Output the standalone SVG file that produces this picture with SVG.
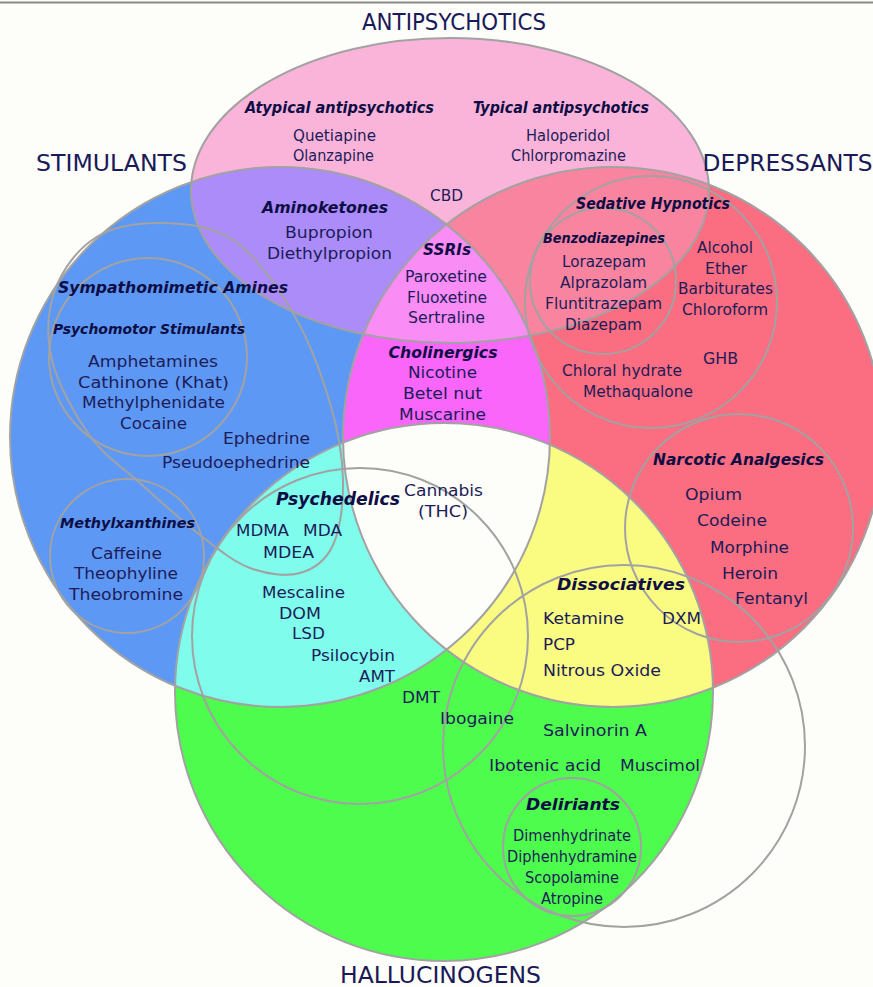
<svg xmlns="http://www.w3.org/2000/svg" width="873" height="987" viewBox="0 0 873 987">
<style>
text{font-family:"DejaVu Sans",Verdana,sans-serif;text-anchor:middle}
.h{font-size:23px;fill:#1a1a58}
.t{font-size:16px;fill:#1c1c58}
.b{font-size:16px;font-weight:bold;font-style:italic;fill:#0e0e45}
.s{font-size:14px;font-weight:bold;font-style:italic;fill:#0e0e45}
.o{fill:none;stroke:#a2a2a2;stroke-width:2}
</style>
<defs>
<clipPath id="cB"><circle cx="280" cy="437" r="270"/></clipPath>
<clipPath id="cR"><circle cx="613" cy="437" r="270"/></clipPath>
</defs>
<rect width="873" height="987" fill="#fdfdf9"/>
<line x1="0" y1="2.5" x2="873" y2="2.5" stroke="#8a8a8a" stroke-width="2"/>
<g id="fills">
<ellipse cx="450" cy="190.5" rx="259" ry="152.5" fill="#fab4da"/>
<circle cx="280" cy="437" r="270" fill="#5e98f5"/>
<circle cx="613" cy="437" r="270" fill="#fb6d80"/>
<circle cx="444" cy="692" r="269" fill="#4efc4e"/>
<circle cx="613" cy="437" r="270" fill="#fa66fa" clip-path="url(#cB)"/>
<circle cx="444" cy="692" r="269" fill="#80fced" clip-path="url(#cB)"/>
<circle cx="444" cy="692" r="269" fill="#fafc82" clip-path="url(#cR)"/>
<g clip-path="url(#cB)"><circle cx="444" cy="692" r="269" fill="#fdfdf9" clip-path="url(#cR)"/></g>
<ellipse cx="450" cy="190.5" rx="259" ry="152.5" fill="#ab8cf9" clip-path="url(#cB)"/>
<ellipse cx="450" cy="190.5" rx="259" ry="152.5" fill="#f9849f" clip-path="url(#cR)"/>
<g clip-path="url(#cB)"><ellipse cx="450" cy="190.5" rx="259" ry="152.5" fill="#fa8cf6" clip-path="url(#cR)"/></g>
</g>
<g id="outlines">
<ellipse class="o" cx="450" cy="190.5" rx="259" ry="152.5"/>
<circle class="o" cx="280" cy="437" r="270"/>
<circle class="o" cx="613" cy="437" r="270"/>
<circle class="o" cx="444" cy="692" r="269"/>
<path class="o" d="M160,223 C183,223.3 210.8,225 233,240 C255.2,255 276.8,285.8 293,313 C309.2,340.2 321.7,375.2 330,403 C338.3,430.8 342.5,456.3 343,480 C343.5,503.7 340.2,529.5 333,545 C325.8,560.5 313.8,569.2 300,573 C286.2,576.8 266.7,574.3 250,568 C233.3,561.7 218.3,549.2 200,535 C181.7,520.8 158.3,499.5 140,483 C121.7,466.5 104.7,456.5 90,436 C75.3,415.5 57.8,384.3 52,360 C46.2,335.7 47.8,310.3 55,290 C62.2,269.7 77.5,249.2 95,238 C112.5,226.8 137,222.7 160,223 Z"/>
<circle class="o" cx="148" cy="357" r="99"/>
<circle class="o" cx="127" cy="556" r="77"/>
<circle class="o" cx="651" cy="302" r="126"/>
<circle class="o" cx="603" cy="281" r="73"/>
<circle class="o" cx="739" cy="528" r="114"/>
<circle class="o" cx="360" cy="636" r="168"/>
<circle class="o" cx="624" cy="746" r="181"/>
<circle class="o" cx="572" cy="847" r="69"/>
</g>
<g id="headings">
<text class="h" x="454" y="30" textLength="184" lengthAdjust="spacingAndGlyphs">ANTIPSYCHOTICS</text>
<text class="h" x="111.5" y="171" textLength="151" lengthAdjust="spacingAndGlyphs">STIMULANTS</text>
<text class="h" x="787.5" y="171" textLength="170" lengthAdjust="spacingAndGlyphs">DEPRESSANTS</text>
<text class="h" x="440.5" y="983" textLength="201" lengthAdjust="spacingAndGlyphs">HALLUCINOGENS</text>
</g>
<g id="labels">
<text class="b" x="339.5" y="112.5" textLength="189" lengthAdjust="spacingAndGlyphs">Atypical antipsychotics</text>
<text class="b" x="561" y="112.5" textLength="176" lengthAdjust="spacingAndGlyphs">Typical antipsychotics</text>
<text class="b" x="325" y="212.5" textLength="126" lengthAdjust="spacingAndGlyphs">Aminoketones</text>
<text class="b" x="447" y="254.5" textLength="48" lengthAdjust="spacingAndGlyphs">SSRIs</text>
<text class="b" x="443" y="357.5" textLength="109" lengthAdjust="spacingAndGlyphs">Cholinergics</text>
<text class="b" x="173" y="292.5" textLength="230" lengthAdjust="spacingAndGlyphs">Sympathomimetic Amines</text>
<text class="s" x="149" y="334" textLength="192" lengthAdjust="spacingAndGlyphs">Psychomotor Stimulants</text>
<text class="b" x="653" y="208.5" textLength="154" lengthAdjust="spacingAndGlyphs">Sedative Hypnotics</text>
<text class="s" x="604" y="243" textLength="122" lengthAdjust="spacingAndGlyphs">Benzodiazepines</text>
<text class="b" x="738.5" y="464.5" textLength="171" lengthAdjust="spacingAndGlyphs">Narcotic Analgesics</text>
<text class="b" x="338" y="505" textLength="124" lengthAdjust="spacingAndGlyphs" style="font-size:17.5px">Psychedelics</text>
<text class="s" x="127.5" y="528" textLength="135" lengthAdjust="spacingAndGlyphs">Methylxanthines</text>
<text class="b" x="621" y="589.5" textLength="128" lengthAdjust="spacingAndGlyphs">Dissociatives</text>
<text class="b" x="573" y="809.5" textLength="94" lengthAdjust="spacingAndGlyphs">Deliriants</text>
</g>
<g id="items">
<text class="t" x="334.5" y="140.5" textLength="83" lengthAdjust="spacingAndGlyphs">Quetiapine</text>
<text class="t" x="333.5" y="160.5" textLength="81" lengthAdjust="spacingAndGlyphs">Olanzapine</text>
<text class="t" x="568" y="140.5" textLength="84" lengthAdjust="spacingAndGlyphs">Haloperidol</text>
<text class="t" x="568.5" y="160.5" textLength="115" lengthAdjust="spacingAndGlyphs">Chlorpromazine</text>
<text class="t" x="446.5" y="200.5" textLength="33" lengthAdjust="spacingAndGlyphs">CBD</text>
<text class="t" x="329" y="238" textLength="88" lengthAdjust="spacingAndGlyphs">Bupropion</text>
<text class="t" x="329.5" y="258.5" textLength="125" lengthAdjust="spacingAndGlyphs">Diethylpropion</text>
<text class="t" x="446" y="281.5" textLength="82" lengthAdjust="spacingAndGlyphs">Paroxetine</text>
<text class="t" x="447" y="302.5" textLength="80" lengthAdjust="spacingAndGlyphs">Fluoxetine</text>
<text class="t" x="446.5" y="322.5" textLength="77" lengthAdjust="spacingAndGlyphs">Sertraline</text>
<text class="t" x="442.5" y="377.5" textLength="69" lengthAdjust="spacingAndGlyphs">Nicotine</text>
<text class="t" x="442.5" y="398.5" textLength="79" lengthAdjust="spacingAndGlyphs">Betel nut</text>
<text class="t" x="442.5" y="419.5" textLength="87" lengthAdjust="spacingAndGlyphs">Muscarine</text>
<text class="t" x="153" y="366.5" textLength="130" lengthAdjust="spacingAndGlyphs">Amphetamines</text>
<text class="t" x="153.5" y="387.5" textLength="151" lengthAdjust="spacingAndGlyphs">Cathinone (Khat)</text>
<text class="t" x="153.5" y="407.5" textLength="143" lengthAdjust="spacingAndGlyphs">Methylphenidate</text>
<text class="t" x="153.5" y="428.5" textLength="67" lengthAdjust="spacingAndGlyphs">Cocaine</text>
<text class="t" x="266.5" y="443.5" textLength="87" lengthAdjust="spacingAndGlyphs">Ephedrine</text>
<text class="t" x="236" y="467.5" textLength="148" lengthAdjust="spacingAndGlyphs">Pseudoephedrine</text>
<text class="t" x="604" y="266.5" textLength="84" lengthAdjust="spacingAndGlyphs">Lorazepam</text>
<text class="t" x="603.5" y="287.5" textLength="87" lengthAdjust="spacingAndGlyphs">Alprazolam</text>
<text class="t" x="603.5" y="308.5" textLength="117" lengthAdjust="spacingAndGlyphs">Fluntitrazepam</text>
<text class="t" x="603.5" y="329.5" textLength="77" lengthAdjust="spacingAndGlyphs">Diazepam</text>
<text class="t" x="725" y="252.5" textLength="56" lengthAdjust="spacingAndGlyphs">Alcohol</text>
<text class="t" x="726" y="273.5" textLength="42" lengthAdjust="spacingAndGlyphs">Ether</text>
<text class="t" x="725.5" y="293.5" textLength="95" lengthAdjust="spacingAndGlyphs">Barbiturates</text>
<text class="t" x="725" y="314.5" textLength="86" lengthAdjust="spacingAndGlyphs">Chloroform</text>
<text class="t" x="720.5" y="363.5" textLength="35" lengthAdjust="spacingAndGlyphs">GHB</text>
<text class="t" x="622" y="375.5" textLength="120" lengthAdjust="spacingAndGlyphs">Chloral hydrate</text>
<text class="t" x="638" y="396.5" textLength="110" lengthAdjust="spacingAndGlyphs">Methaqualone</text>
<text class="t" x="713.5" y="499.5" textLength="57" lengthAdjust="spacingAndGlyphs">Opium</text>
<text class="t" x="732" y="525.5" textLength="70" lengthAdjust="spacingAndGlyphs">Codeine</text>
<text class="t" x="749.5" y="552.5" textLength="79" lengthAdjust="spacingAndGlyphs">Morphine</text>
<text class="t" x="750" y="578.5" textLength="56" lengthAdjust="spacingAndGlyphs">Heroin</text>
<text class="t" x="771.5" y="603.5" textLength="73" lengthAdjust="spacingAndGlyphs">Fentanyl</text>
<text class="t" x="443.5" y="495.5" textLength="79" lengthAdjust="spacingAndGlyphs">Cannabis</text>
<text class="t" x="443" y="516.5" textLength="50" lengthAdjust="spacingAndGlyphs">(THC)</text>
<text class="t" x="126.5" y="558.5" textLength="71" lengthAdjust="spacingAndGlyphs">Caffeine</text>
<text class="t" x="126" y="578.5" textLength="104" lengthAdjust="spacingAndGlyphs">Theophyline</text>
<text class="t" x="126" y="599.5" textLength="114" lengthAdjust="spacingAndGlyphs">Theobromine</text>
<text class="t" x="262.5" y="535.5" textLength="53" lengthAdjust="spacingAndGlyphs">MDMA</text>
<text class="t" x="322.5" y="535.5" textLength="39" lengthAdjust="spacingAndGlyphs">MDA</text>
<text class="t" x="288.5" y="557.5" textLength="51" lengthAdjust="spacingAndGlyphs">MDEA</text>
<text class="t" x="303.5" y="597.5" textLength="83" lengthAdjust="spacingAndGlyphs">Mescaline</text>
<text class="t" x="300" y="618.5" textLength="42" lengthAdjust="spacingAndGlyphs">DOM</text>
<text class="t" x="308.5" y="638.5" textLength="33" lengthAdjust="spacingAndGlyphs">LSD</text>
<text class="t" x="353" y="660.5" textLength="84" lengthAdjust="spacingAndGlyphs">Psilocybin</text>
<text class="t" x="377" y="681.5" textLength="36" lengthAdjust="spacingAndGlyphs">AMT</text>
<text class="t" x="421" y="702.5" textLength="38" lengthAdjust="spacingAndGlyphs">DMT</text>
<text class="t" x="477" y="723.5" textLength="74" lengthAdjust="spacingAndGlyphs">Ibogaine</text>
<text class="t" x="583.5" y="623.5" textLength="81" lengthAdjust="spacingAndGlyphs">Ketamine</text>
<text class="t" x="681.5" y="623.5" textLength="39" lengthAdjust="spacingAndGlyphs">DXM</text>
<text class="t" x="559" y="649.5" textLength="32" lengthAdjust="spacingAndGlyphs">PCP</text>
<text class="t" x="602" y="675.5" textLength="118" lengthAdjust="spacingAndGlyphs">Nitrous Oxide</text>
<text class="t" x="595" y="735.5" textLength="104" lengthAdjust="spacingAndGlyphs">Salvinorin A</text>
<text class="t" x="545" y="770.5" textLength="112" lengthAdjust="spacingAndGlyphs">Ibotenic acid</text>
<text class="t" x="660" y="770.5" textLength="80" lengthAdjust="spacingAndGlyphs">Muscimol</text>
<text class="t" x="572" y="840.5" textLength="118" lengthAdjust="spacingAndGlyphs">Dimenhydrinate</text>
<text class="t" x="572" y="861.5" textLength="130" lengthAdjust="spacingAndGlyphs">Diphenhydramine</text>
<text class="t" x="572" y="882.5" textLength="94" lengthAdjust="spacingAndGlyphs">Scopolamine</text>
<text class="t" x="572" y="903.5" textLength="62" lengthAdjust="spacingAndGlyphs">Atropine</text>
</g>
</svg>
